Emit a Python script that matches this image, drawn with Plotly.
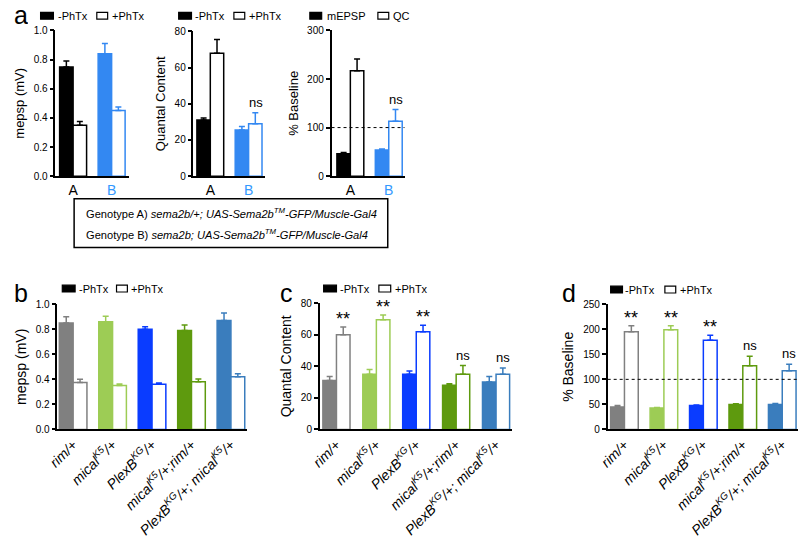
import plotly.graph_objects as go

W, H = 800, 542
FONT = "Liberation Sans, Arial, sans-serif"

# ---------------- data ----------------
a_groups = ["A", "B"]
a_colors = ["#000000", "#3388f2"]
a_mepsp_minus = [0.75, 0.84]
a_mepsp_minus_err = [0.04, 0.07]
a_mepsp_plus = [0.35, 0.45]
a_mepsp_plus_err = [0.025, 0.025]
a_qc_minus = [31, 25.5]
a_qc_minus_err = [1.2, 2.0]
a_qc_plus = [68, 29]
a_qc_plus_err = [7.5, 6.0]
a_pct_mepsp = [46, 54]
a_pct_mepsp_err = [2.5, 2.0]
a_pct_qc = [217, 113]
a_pct_qc_err = [24, 24]
a_sig_qc = ["", "ns"]
a_sig_pct = ["", "ns"]

genotypes = ["<i>rim/+</i>",
             "<i>mical<sup>K5</sup>/+</i>",
             "<i>PlexB<sup>KG</sup>/+</i>",
             "<i>mical<sup>K5</sup>/+;rim/+</i>",
             "<i>PlexB<sup>KG</sup>/+; mical<sup>K5</sup>/+</i>"]
g_colors = ["#808080", "#9dcc55", "#0a3cff", "#5e9a0e", "#3a7dbd"]

b_minus = [0.85, 0.86, 0.80, 0.79, 0.87]
b_minus_err = [0.05, 0.045, 0.02, 0.045, 0.06]
b_plus = [0.375, 0.35, 0.36, 0.38, 0.42]
b_plus_err = [0.025, 0.012, 0.01, 0.022, 0.025]

c_minus = [31, 35, 35, 28, 30]
c_minus_err = [2.5, 3, 2, 1, 3.5]
c_plus = [60, 69.5, 62, 35, 35]
c_plus_err = [5, 3, 4, 5.5, 4]
c_sig = ["**", "**", "**", "ns", "ns"]

d_minus = [45, 43, 48, 50, 50]
d_minus_err = [3, 1, 1, 1.5, 2]
d_plus = [195, 199, 178, 127, 117]
d_plus_err = [12, 8, 10, 19, 13]
d_sig = ["**", "**", "**", "ns", "ns"]


def pxx(x):
    return x / W


def pyy(y):
    return 1 - y / H


fig = go.Figure()


def add_pair(ax, cats, minus, minus_err, plus, plus_err, colors, width):
    xa = "x" if ax == 1 else "x%d" % ax
    ya = "y" if ax == 1 else "y%d" % ax
    for i, cat in enumerate(cats):
        col = colors[i]
        fig.add_trace(go.Bar(
            x=[cat], y=[minus[i]], xaxis=xa, yaxis=ya, width=width, offset=-width,
            marker=dict(color=col, line=dict(color=col, width=1.5)),
            error_y=dict(type="data", array=[minus_err[i]], arrayminus=[0], symmetric=False,
                         color=col, thickness=1.5, width=3),
            showlegend=False))
        fig.add_trace(go.Bar(
            x=[cat], y=[plus[i]], xaxis=xa, yaxis=ya, width=width, offset=0,
            marker=dict(color="white", line=dict(color=col, width=1.5)),
            error_y=dict(type="data", array=[plus_err[i]], arrayminus=[0], symmetric=False,
                         color=col, thickness=1.5, width=3),
            showlegend=False))


add_pair(1, a_groups, a_mepsp_minus, a_mepsp_minus_err, a_mepsp_plus, a_mepsp_plus_err, a_colors, 0.35)
add_pair(2, a_groups, a_qc_minus, a_qc_minus_err, a_qc_plus, a_qc_plus_err, a_colors, 0.35)
add_pair(3, a_groups, a_pct_mepsp, a_pct_mepsp_err, a_pct_qc, a_pct_qc_err, a_colors, 0.35)
add_pair(4, genotypes, b_minus, b_minus_err, b_plus, b_plus_err, g_colors, 0.35)
add_pair(5, genotypes, c_minus, c_minus_err, c_plus, c_plus_err, g_colors, 0.34)
add_pair(6, genotypes, d_minus, d_minus_err, d_plus, d_plus_err, g_colors, 0.35)

axis_common = dict(showline=True, linecolor="black", linewidth=1.5, showgrid=False,
                   zeroline=False, tickfont=dict(family=FONT, size=10, color="black"))

a_ticktext = ["A", "<span style='color:#3399ff'>B</span>"]


def xaxis(dom, rng, cats, ticktext=None, angle=0, size=14):
    d = dict(axis_common)
    d.update(domain=[pxx(dom[0]), pxx(dom[1])], range=rng, type="category",
             categoryorder="array", categoryarray=cats, ticks="",
             tickvals=cats, ticktext=ticktext if ticktext else cats,
             tickangle=angle, tickfont=dict(family=FONT, size=size, color="black"))
    return d


def yaxis(dom, anchor, rng, dtick, title, tsize, fmt=None):
    d = dict(axis_common)
    d.update(domain=[pyy(dom[1]), pyy(dom[0])], anchor=anchor, range=rng, dtick=dtick,
             ticks="outside", ticklen=4, tickwidth=1.5, tickcolor="black",
             title=dict(text=title, font=dict(family=FONT, size=tsize, color="black"), standoff=6))
    if fmt:
        d["tickformat"] = fmt
    return d


fig.update_layout(
    xaxis=dict(xaxis((45, 120), [-0.46, 1.46], a_groups, a_ticktext, 0, 14), anchor="y"),
    yaxis=yaxis((25, 174), "x", [0, 1.0], 0.2, "mepsp (mV)", 13, ".1f"),
    xaxis2=dict(xaxis((185, 258), [-0.44, 1.44], a_groups, a_ticktext, 0, 14), anchor="y2"),
    yaxis2=yaxis((26, 174), "x2", [0, 80], 20, "Quantal Content", 13),
    xaxis3=dict(xaxis((325, 399), [-0.49, 1.41], a_groups, a_ticktext, 0, 14), anchor="y3"),
    yaxis3=yaxis((25, 174), "x3", [0, 300], 100, "% Baseline", 13),
    xaxis4=dict(xaxis((47, 239), [-0.4, 4.4], genotypes, None, -45, 14), anchor="y4"),
    yaxis4=yaxis((305, 433), "x4", [0, 1.0], 0.2, "mepsp (mV)", 14, ".1f"),
    xaxis5=dict(xaxis((313, 508), [-0.42, 4.4], genotypes, None, -45, 14), anchor="y5"),
    yaxis5=yaxis((304, 433), "x5", [0, 80], 20, "Quantal Content", 14),
    xaxis6=dict(xaxis((605, 798), [-0.425, 4.4], genotypes, None, -45, 14), anchor="y6"),
    yaxis6=yaxis((305, 433), "x6", [0, 250], 50, "% Baseline", 14),
    width=W, height=H, margin=dict(l=0, r=0, t=0, b=0),
    paper_bgcolor="white", plot_bgcolor="white", barmode="overlay",
    font=dict(family=FONT, color="black"),
)

shapes = []
ann = []

# dotted 100% lines
for ax in (3, 6):
    shapes.append(dict(type="line", xref="x%d domain" % ax, yref="y%d" % ax, x0=0, x1=1, y0=100, y1=100,
                       line=dict(color="black", width=1, dash="dot")))


def sig_ann(ax, cats, vals, errs, sigs):
    for i, s in enumerate(sigs):
        if not s:
            continue
        star = s == "**"
        ann.append(dict(xref="x%d" % ax, yref="y%d" % ax, x=cats[i], y=vals[i] + errs[i],
                        xshift=7, yanchor="bottom", yshift=-4 if star else 1,
                        text=s, showarrow=False,
                        font=dict(family=FONT, size=18 if star else 13, color="black")))


sig_ann(2, a_groups, a_qc_plus, a_qc_plus_err, a_sig_qc)
sig_ann(3, a_groups, a_pct_qc, a_pct_qc_err, a_sig_pct)
sig_ann(5, genotypes, c_plus, c_plus_err, c_sig)
sig_ann(6, genotypes, d_plus, d_plus_err, d_sig)


def legend(y, items):
    for (x0, x1, tx, label, filled) in items:
        shapes.append(dict(type="rect", xref="paper", yref="paper",
                           x0=pxx(x0), x1=pxx(x1), y0=pyy(y + 3.5), y1=pyy(y - 3.5),
                           fillcolor="black" if filled else "white",
                           line=dict(color="black", width=1.2)))
        ann.append(dict(xref="paper", yref="paper", x=pxx(tx), y=pyy(y), xanchor="left",
                        yanchor="middle", text=label, showarrow=False,
                        font=dict(family=FONT, size=11, color="black")))


legend(10, [(30, 43, 46, "-PhTx", True), (87, 98, 100, "+PhTx", False)])
legend(10, [(170, 183, 185, "-PhTx", True), (226, 237, 239, "+PhTx", False)])
legend(10, [(303, 315, 318, "mEPSP", True), (372, 383, 385, "QC", False)])
legend(289, [(52, 65, 67, "-PhTx", True), (107, 118, 120, "+PhTx", False)])
legend(289, [(317, 330, 332, "-PhTx", True), (373, 385, 387, "+PhTx", False)])
legend(290, [(608, 620, 621, "-PhTx", True), (663, 674, 676, "+PhTx", False)])

# panel letters
for (lx, ly, t) in [(1, 9, "a"), (1, 293, "b"), (271, 294, "c"), (557, 294, "d")]:
    ann.append(dict(xref="paper", yref="paper", x=pxx(lx), y=pyy(ly), xanchor="left", yanchor="middle",
                    height=18, valign="middle",
                    text=t, showarrow=False, font=dict(family=FONT, size=25, color="black")))

# genotype box
shapes.append(dict(type="rect", xref="paper", yref="paper", x0=pxx(64), x1=pxx(382),
                   y0=pyy(247), y1=pyy(197), line=dict(color="black", width=1.5)))
box_lines = ["Genotype A) <i>sema2b/+; UAS-Sema2b<sup>TM</sup>-GFP/Muscle-Gal4</i>",
             "Genotype B) <i>sema2b; UAS-Sema2b<sup>TM</sup>-GFP/Muscle-Gal4</i>"]
for t, yy in zip(box_lines, [212, 233]):
    ann.append(dict(xref="paper", yref="paper", x=pxx(74), y=pyy(yy), xanchor="left", yanchor="middle",
                    text=t, showarrow=False, font=dict(family=FONT, size=11.1, color="black")))

fig.update_layout(shapes=shapes, annotations=ann)
fig.write_html("out.html", config={"displayModeBar": False},
               post_script="document.body.style.margin='0';document.body.style.padding='0';"
                           "document.body.style.overflow='hidden';")
